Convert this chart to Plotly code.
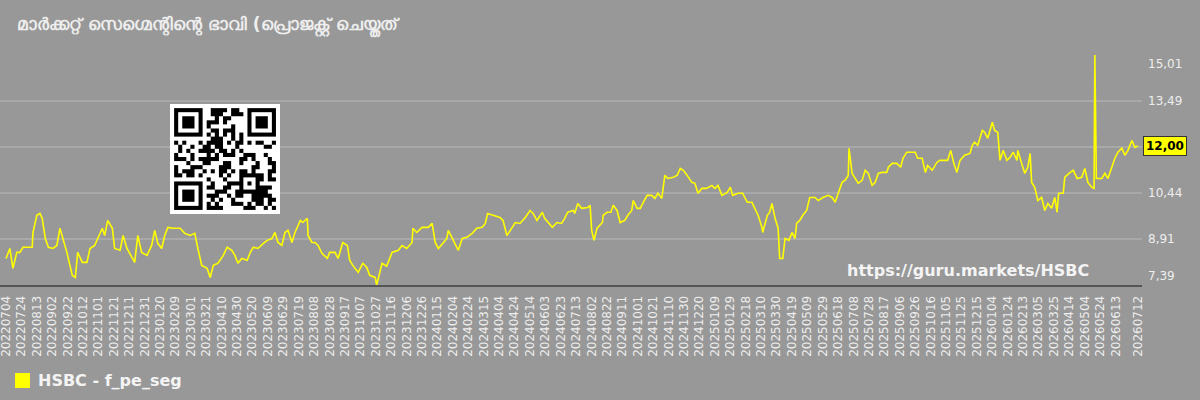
import base64
import hashlib
import struct
import zlib
from datetime import date, timedelta

import plotly.graph_objects as go

# ---------------- data ----------------
dates = [
    "20220704", "20220709", "20220713", "20220718", "20220722", "20220726", "20220802", "20220807",
    "20220808", "20220813", "20220817", "20220820", "20220824", "20220828", "20220903", "20220908",
    "20220912", "20220916", "20220921", "20220928", "20221002", "20221005", "20221011", "20221017",
    "20221021", "20221027", "20221031", "20221106", "20221109", "20221113", "20221119", "20221122",
    "20221129", "20221203", "20221208", "20221215", "20221218", "20221222", "20221227", "20230103",
    "20230109", "20230113", "20230117", "20230122", "20230126", "20230130", "20230206", "20230215",
    "20230221", "20230228", "20230306", "20230310", "20230315", "20230322", "20230326", "20230330",
    "20230405", "20230412", "20230417", "20230423", "20230427", "20230501", "20230506", "20230513",
    "20230517", "20230521", "20230527", "20230603", "20230608", "20230614", "20230618", "20230622",
    "20230627", "20230701", "20230705",
    "20230710", "20230714", "20230721", "20230724", "20230730", "20230731", "20230805", "20230809",
    "20230813", "20230818", "20230825", "20230828", "20230904", "20230908", "20230914", "20230920",
    "20230923", "20230927", "20231004", "20231010", "20231015", "20231019", "20231026", "20231028",
    "20231104", "20231110", "20231117", "20231125", "20231130", "20231206", "20231213", "20231214",
    "20231219", "20231226", "20240103", "20240108", "20240112", "20240116", "20240122", "20240127",
    "20240129", "20240203", "20240207", "20240211", "20240216", "20240222", "20240229", "20240306",
    "20240313", "20240317", "20240320", "20240327", "20240405", "20240409", "20240414", "20240421",
    "20240425", "20240501", "20240508", "20240514", "20240518", "20240523", "20240530", "20240602",
    "20240612", "20240618", "20240624", "20240628", "20240702", "20240709",
    "20240711", "20240715", "20240720", "20240728", "20240731", "20240802", "20240805", "20240809",
    "20240816", "20240817", "20240822", "20240827", "20240830", "20240904", "20240908", "20240914",
    "20240918", "20240923", "20240925", "20240930", "20241004", "20241008", "20241013", "20241019",
    "20241023", "20241027", "20241101", "20241105", "20241109", "20241116", "20241121", "20241125",
    "20241129", "20241204", "20241210", "20241214", "20241218", "20241223", "20241229", "20250105",
    "20250109", "20250113", "20250118", "20250125", "20250129", "20250201", "20250208", "20250214",
    "20250220", "20250226", "20250302", "20250306", "20250311", "20250312", "20250318", "20250321",
    "20250324", "20250328", "20250401", "20250403", "20250407", "20250410", "20250415", "20250419",
    "20250423", "20250425", "20250429", "20250503", "20250508", "20250512", "20250519", "20250523",
    "20250529", "20250605", "20250610", "20250614", "20250618", "20250623", "20250627", "20250701",
    "20250702", "20250706", "20250710",
    "20250714", "20250719", "20250723", "20250727", "20250801", "20250805", "20250809", "20250814",
    "20250820", "20250822", "20250827", "20250902", "20250907", "20250910", "20250915", "20250922",
    "20250926", "20250929", "20251005", "20251009", "20251012", "20251018", "20251024", "20251028",
    "20251103", "20251107", "20251111", "20251115", "20251119", "20251123", "20251129", "20251206",
    "20251209", "20251212", "20251216", "20251222", "20251225", "20251229", "20260104", "20260107",
    "20260111", "20260114", "20260118", "20260123", "20260127", "20260131", "20260205", "20260206",
    "20260211", "20260215", "20260219", "20260222", "20260224", "20260228", "20260304", "20260309",
    "20260313", "20260317", "20260322", "20260326", "20260329", "20260331", "20260406", "20260408",
    "20260415", "20260419", "20260424", "20260430", "20260504", "20260508", "20260513", "20260516",
    "20260517", "20260519", "20260526", "20260530", "20260603", "20260609", "20260612", "20260616",
    "20260621", "20260625", "20260629", "20260704", "20260708", "20260712",
]

values = [
    8.27, 8.60, 7.94, 8.47, 8.47, 8.64, 8.64, 8.64,
    9.13, 9.70, 9.76, 9.60, 8.93, 8.64, 8.60, 8.70,
    9.27, 8.93, 8.47, 7.71, 7.64, 8.47, 8.14, 8.14,
    8.60, 8.70, 8.93, 9.27, 9.03, 9.53, 9.27, 8.60,
    8.54, 9.03, 8.60, 8.27, 8.14, 9.03, 8.47, 8.37,
    8.70, 9.20, 8.77, 8.60, 9.03, 9.30, 9.27, 9.27,
    9.10, 9.03, 9.10, 8.60, 8.04, 7.94, 7.64, 8.04,
    8.11, 8.37, 8.64, 8.54, 8.37, 8.11, 8.27, 8.21,
    8.47, 8.64, 8.60, 8.77, 8.87, 8.93, 9.13, 8.80,
    8.70, 9.13, 9.20,
    8.80, 9.13, 9.53, 9.46, 9.60, 9.03, 8.80, 8.80,
    8.70, 8.44, 8.27, 8.47, 8.47, 8.27, 8.80, 8.70,
    8.21, 8.04, 7.81, 8.11, 7.98, 7.71, 7.64, 7.39,
    8.11, 8.01, 8.47, 8.54, 8.70, 8.60, 8.80, 9.27,
    9.13, 9.30, 9.30, 9.43, 8.80, 8.60, 8.77, 8.93,
    9.20, 8.93, 8.70, 8.54, 8.93, 8.97, 9.10, 9.27,
    9.30, 9.43, 9.76, 9.70, 9.63, 9.53, 9.03, 9.30,
    9.46, 9.43, 9.63, 9.86, 9.76, 9.53, 9.80, 9.60,
    9.30, 9.46, 9.43, 9.60, 9.80, 9.86,
    9.76, 10.09, 9.93, 9.96, 10.03, 9.20, 8.87, 9.27,
    9.46, 9.70, 9.80, 9.80, 10.03, 9.86, 9.46, 9.53,
    9.70, 9.86, 10.19, 9.93, 9.93, 10.13, 10.36, 10.36,
    10.26, 10.43, 10.26, 11.02, 10.92, 10.96, 11.02, 11.25,
    11.19, 11.02, 10.79, 10.76, 10.43, 10.59, 10.59, 10.69,
    10.59, 10.69, 10.36, 10.46, 10.63, 10.36, 10.43, 10.43,
    10.13, 10.13, 9.93, 9.70, 9.30, 9.13, 9.70, 9.80,
    10.09, 9.60, 9.27, 8.27, 8.27, 8.93, 8.87, 9.13,
    8.93, 9.43, 9.53, 9.70, 9.86, 10.29, 10.29, 10.19,
    10.29, 10.36, 10.29, 10.13, 10.43, 10.79, 10.86, 11.02,
    11.92, 11.09, 10.92,
    10.76, 10.86, 11.19, 11.09, 10.69, 10.79, 11.09, 11.12,
    11.12, 11.29, 11.42, 11.42, 11.29, 11.59, 11.79, 11.79,
    11.79, 11.59, 11.59, 11.12, 11.35, 11.19, 11.45, 11.52,
    11.52, 11.52, 11.85, 11.42, 11.12, 11.52, 11.69, 11.75,
    12.02, 12.12, 12.02, 12.51, 12.45, 12.25, 12.78, 12.51,
    12.45, 11.52, 11.85, 11.52, 11.62, 11.79, 11.52, 11.85,
    11.42, 11.09, 11.29, 11.75, 10.79, 10.63, 10.19, 10.29,
    9.86, 10.09, 9.93, 10.29, 9.80, 10.43, 10.43, 10.96,
    11.12, 11.19, 10.92, 10.96, 11.25, 10.79, 10.63, 10.59,
    15.01, 10.92, 10.92, 11.09, 10.92, 11.42, 11.59, 11.79,
    11.92, 11.69, 11.85, 12.18, 11.95, 12.00,
]

y_ticks = [7.39, 8.91, 10.44, 11.96, 13.49, 15.01]
y_tick_labels = ["7,39", "8,91", "10,44", "", "13,49", "15,01"]
last_label = "12,00"
series_name = "HSBC - f_pe_seg"
watermark = "https://guru.markets/HSBC"
title_text = ("\u0d2e\u0d3e\u0d7c\u0d15\u0d4d\u0d15\u0d31\u0d4d\u0d31\u0d4d "
              "\u0d38\u0d46\u0d17\u0d4d\u0d2e\u0d46\u0d28\u0d4d\u0d31\u0d3f\u0d28\u0d4d\u0d31\u0d46 "
              "\u0d2d\u0d3e\u0d35\u0d3f "
              "(\u0d2a\u0d4d\u0d30\u0d4a\u0d1c\u0d15\u0d4d\u0d31\u0d4d\u0d31\u0d4d "
              "\u0d1a\u0d46\u0d2f\u0d4d\u0d24\u0d24\u0d4d")

# x tick labels: every 20 days from the first date, plus the last date
start = date(2022, 7, 4)
tick_days = list(range(0, 1441, 20)) + [1469]
tick_dates = [(start + timedelta(days=d)) for d in tick_days]
tick_vals = [d.isoformat() for d in tick_dates]
tick_text = [d.strftime("%Y%m%d") for d in tick_dates]

x_dates = [f"{s[:4]}-{s[4:6]}-{s[6:]}" for s in dates]

# ---------------- styling ----------------
BG = "#989898"
GRID = "#a9a9a9"
TXT = "#eeeeee"
YEL = "#ffff00"
FONT = "DejaVu Sans"

W, H = 1200, 400
L, R, T, B = 0, 58, 55, 115
PW, PH = W - L - R, H - T - B


def px_x(x):
    return (x - L) / PW


def px_y(y):
    return (H - B - y) / PH


# QR-like decoration image
def qr_matrix():
    n = 25
    m = [[None] * n for _ in range(n)]

    def finder(r0, c0):
        for r in range(-1, 8):
            for c in range(-1, 8):
                rr, cc = r0 + r, c0 + c
                if 0 <= rr < n and 0 <= cc < n:
                    on = (0 <= r <= 6 and 0 <= c <= 6 and
                          (r in (0, 6) or c in (0, 6) or (2 <= r <= 4 and 2 <= c <= 4)))
                    m[rr][cc] = on

    finder(0, 0)
    finder(0, 18)
    finder(18, 0)
    for i in range(8, 17):
        m[6][i] = i % 2 == 0
        m[i][6] = i % 2 == 0
    for r in range(-2, 3):
        for c in range(-2, 3):
            m[18 + r][18 + c] = max(abs(r), abs(c)) != 1
    for r in range(n):
        for c in range(n):
            if m[r][c] is None:
                h = hashlib.md5(f"guru{r},{c}".encode()).digest()
                m[r][c] = h[0] % 2 == 0
    q = [[False] * (n + 2) for _ in range(n + 2)]
    for r in range(n):
        for c in range(n):
            q[r + 1][c + 1] = m[r][c]
    return q


def png_uri(mat, scale):
    n = len(mat)
    w = n * scale
    raw = b""
    for r in range(n):
        row = bytes([0 if mat[r][c] else 255 for c in range(n) for _ in range(scale)])
        raw += (b"\x00" + row) * scale

    def chunk(t, d):
        return struct.pack(">I", len(d)) + t + d + struct.pack(">I", zlib.crc32(t + d) & 0xFFFFFFFF)

    png = (b"\x89PNG\r\n\x1a\n" +
           chunk(b"IHDR", struct.pack(">IIBBBBB", w, w, 8, 0, 0, 0, 0)) +
           chunk(b"IDAT", zlib.compress(raw)) +
           chunk(b"IEND", b""))
    return "data:image/png;base64," + base64.b64encode(png).decode()


fig = go.Figure()
fig.add_trace(go.Scatter(
    x=x_dates, y=values, mode="lines", name=series_name,
    line=dict(color=YEL, width=1.6), showlegend=False, hoverinfo="skip",
))

annotations = []
for v, lab in zip(y_ticks, y_tick_labels):
    if not lab:
        continue
    ya = "middle"
    if v == y_ticks[-1]:
        ya = "top"
    elif v == y_ticks[0]:
        ya = "bottom"
    annotations.append(dict(
        x=1, xref="paper", y=v, yref="y", text=lab, showarrow=False,
        xanchor="left", yanchor=ya, xshift=4,
        font=dict(family=FONT, size=12, color=TXT),
    ))

annotations.append(dict(
    x=1, xref="paper", y=values[-1], yref="y", text=f"<b>{last_label}</b>",
    showarrow=False, xanchor="left", yanchor="middle", xshift=1,
    bgcolor=YEL, bordercolor="#333333", borderwidth=1, borderpad=2,
    font=dict(family=FONT, size=12, color="#000000"),
))

annotations.append(dict(
    x=px_x(1091), xref="paper", y=px_y(270), yref="paper",
    text=f"<b>{watermark}</b>", showarrow=False, xanchor="right", yanchor="middle",
    font=dict(family=FONT, size=16, color="#f4f4f4"),
))

annotations.append(dict(
    x=px_x(36), xref="paper", y=px_y(380), yref="paper",
    text=f"<b>{series_name}</b>", showarrow=False, xanchor="left", yanchor="middle",
    font=dict(family=FONT, size=16, color="#f4f4f4"),
))

shapes = [dict(
    type="rect", xref="paper", yref="paper",
    x0=px_x(15), x1=px_x(30), y0=px_y(388), y1=px_y(373),
    fillcolor=YEL, line=dict(width=0),
)]

images = [dict(
    source=png_uri(qr_matrix(), 4), xref="paper", yref="paper",
    x=px_x(170), y=px_y(104), sizex=110 / PW, sizey=110 / PH,
    xanchor="left", yanchor="top", sizing="stretch", layer="above",
)]

fig.update_layout(
    width=W, height=H,
    margin=dict(l=L, r=R, t=T, b=B, pad=0),
    paper_bgcolor=BG, plot_bgcolor=BG,
    font=dict(family=FONT, color=TXT),
    title=dict(
        text=f"<b>{title_text}</b>", x=17 / W, xref="container", xanchor="left",
        y=1 - 24 / H, yref="container", yanchor="middle",
        font=dict(family=FONT, size=17, color=TXT),
    ),
    xaxis=dict(
        type="date",
        range=["2022-06-26 05:00", "2026-07-17 05:00"],
        tickmode="array", tickvals=tick_vals, ticktext=tick_text,
        tickangle=-90, tickfont=dict(family=FONT, size=12, color=TXT),
        ticklabeloverflow="allow",
        showgrid=False, zeroline=False,
        showline=True, linecolor="#555555", linewidth=2,
        ticks="outside", ticklen=4, tickcolor=BG,
    ),
    yaxis=dict(
        range=[7.39, 15.01],
        tickmode="array", tickvals=y_ticks, showticklabels=False,
        showgrid=True, gridcolor=GRID, gridwidth=2,
        zeroline=False, showline=True, linecolor="#555555", linewidth=2,
        ticks="",
    ),
    annotations=annotations,
    shapes=shapes,
    images=images,
    showlegend=False,
)

fig.write_html("out.html")
